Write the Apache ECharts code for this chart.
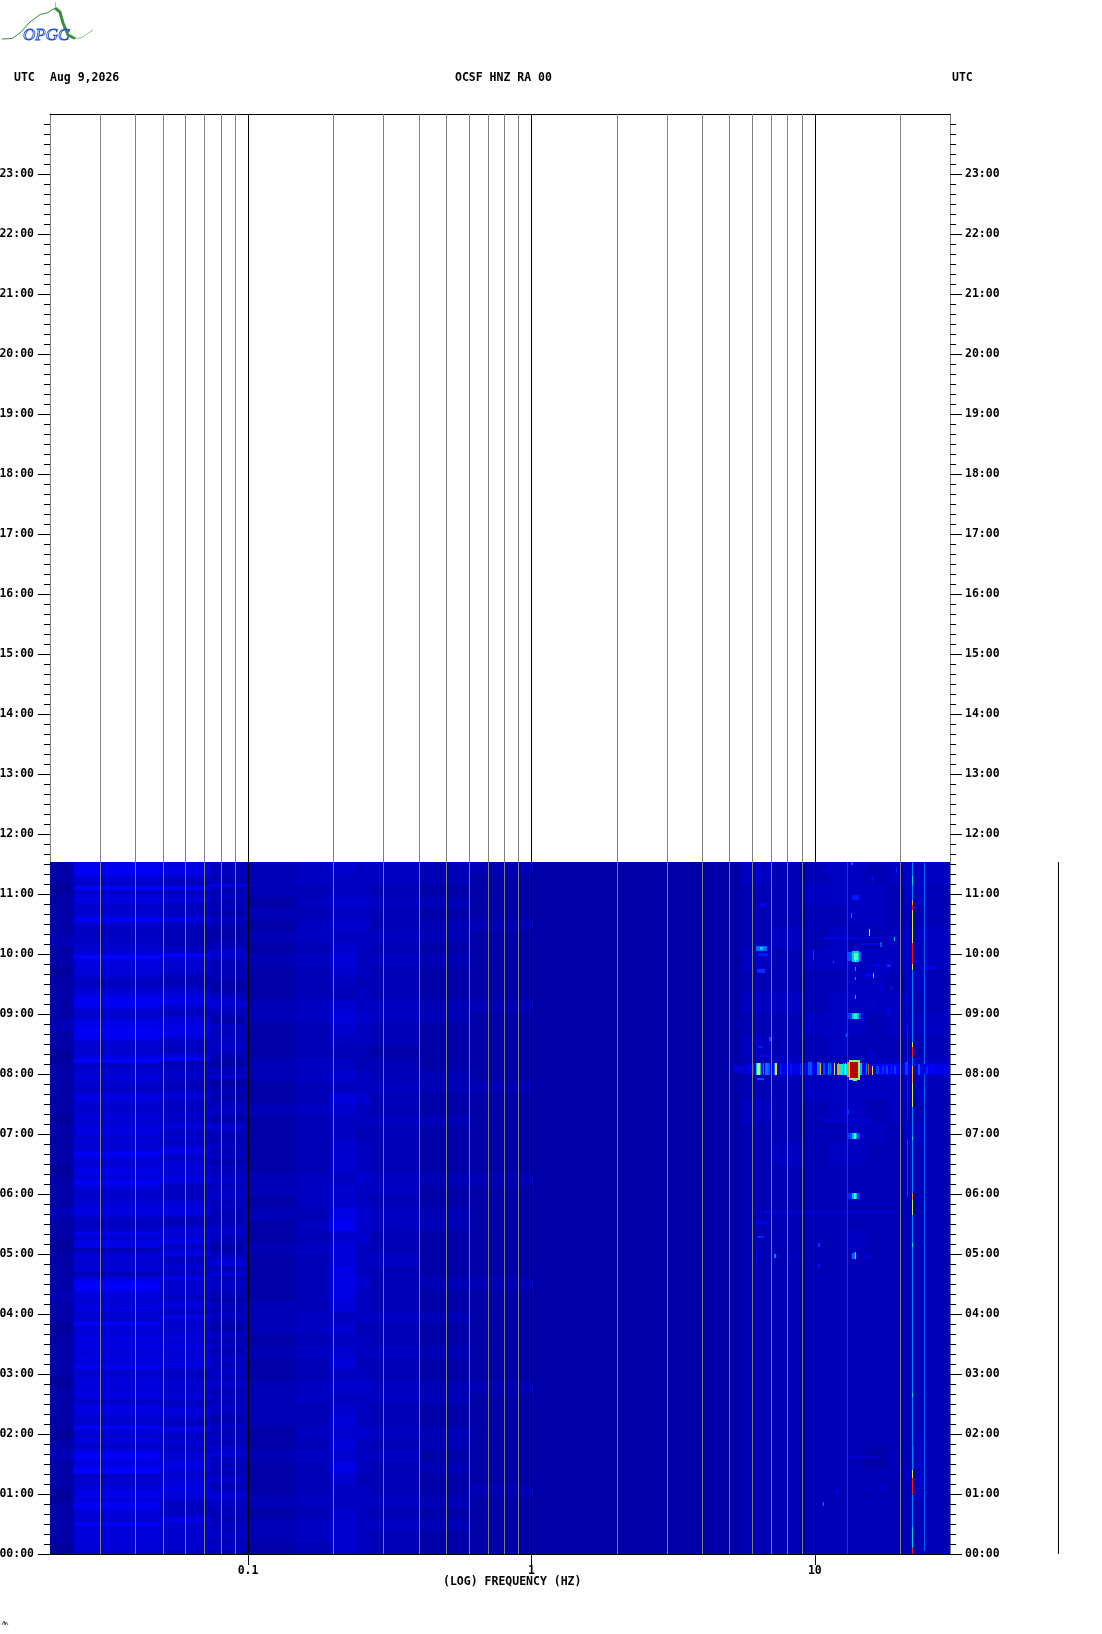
<!DOCTYPE html>
<html><head><meta charset="utf-8">
<style>html,body{margin:0;padding:0;background:#fff}#c{width:1102px;height:1634px}</style>
<script src="https://cdn.jsdelivr.net/npm/echarts@6/dist/echarts.min.js"></script>
</head><body><div id="c"></div>
<script>
// ---------- axes ----------
const freqMin = 0.02, freqMax = 30;
const hourTicks = [0,1,2,3,4,5,6,7,8,9,10,11,12,13,14,15,16,17,18,19,20,21,22,23];
const decadeFreqs = [0.1, 1, 10];
const minorFreqs = [0.03,0.04,0.05,0.06,0.07,0.08,0.09,0.2,0.3,0.4,0.5,0.6,0.7,0.8,0.9,2,3,4,5,6,7,8,9,20];
const dataEndHour = 11.533;
const extentBar = [[71.9, 0, dataEndHour]];

// ---------- background spectrum: band edges (Hz), levels 0-9 per band, read top (11:32) to bottom (00:00) ----------
const bandEdges = [0.02,0.0244,0.0488,0.0732,0.0977,0.146,0.195,0.24,0.27,0.4,0.6,1,3,5.5,7,9,11,13,15,18,21,25,30];
const bandLevels = [
 "221222232212222322122222122221222322122223221222212222123222122221",
 "788755956755568544445569766654456788655778886555794556554576555656765"+"656875677687555567654457577356556368986657655866"+"6767667685566667557765586566478868945567768866586666665",
 "677644845644457433333448655543345677544667775444683445443465444545654"+"545764566576444456764346567457445547555545654755"+"556566566754455556446654475455465677556676654445755555554",
 "334433733433332433222233555333333222345644322443444543221436222332334432454333433432"+"4344534454343333345433223456346344433243343322443342"+"34434443543343444323443433546343434533465443433434443443",
 "333232323222332223322322222332322322223332322333322322232332",
 "443434434333443334433433333444343433333443433443343433343443",
 "544545456543565434546544555455785667776454564545656575445555",
 "444545444434454433445443444544555444544434434544454443444444",
 "443433434333443323343343333443443343333433433443343433343433",
 "332323323222332222332232222322332222322322322332233232232322",
 "322223222222322222232222222322222222322222222322222222322222",
 "2",
 "2",
 "43334343433433333333333333333333",
 "33343343343334333333333333333333",
 "34334334334333333333333333333333",
 "44344344434434333333333333333333",
 "44434444344444333433333333333333",
 "34434443344343333333333333323333",
 "43344344344433333333333333333333",
 "44344434344343333333333333333333",
 "43344334343333333333333333333333"
];
const levelScale = 2.8;

// ---------- narrow features: [fLow, fHigh, hourTop, hourBottom, value] ----------
const faintSpots = [
 [6.3,6.85,10.02,9.97,27],[6.25,6.69,9.75,9.68,29],[6.35,6.75,10.85,10.78,25],[6.3,6.5,11.35,11.32,24],
 [6.2,6.8,10.13,10.05,34],[6.4,6.55,10.11,10.07,44],
 [10.5,14.5,10.28,10.25,19],[14.8,17.5,10.29,10.26,20],[14.4,17,10.18,10.15,20],[17,17.3,10.2,10.12,32],
 [9.85,9.95,10.07,9.9,30],[11.6,11.7,9.89,9.85,33],[18.0,18.6,9.84,9.78,28],[16.2,17,9.84,9.78,22],
 [23.5,27,9.79,9.75,21],[15,15.6,9.68,9.64,24],[18.6,18.75,9.47,9.42,28],[12.9,13.1,8.68,8.62,34],
 [6.9,7,8.62,8.55,32],[6.3,6.55,8.47,8.43,27],[6.35,7,8.32,8.28,22],[6.25,6.6,7.94,7.9,31],
 [12.9,13,7.4,7.32,26],[13.05,13.2,7.4,7.33,30],[10.5,16,7.25,7.21,17],[6.25,19.3,5.72,5.68,17],
 [6.2,6.8,5.55,5.5,22],[6.25,6.6,5.3,5.26,28],[7.2,7.3,5.0,4.94,36],[6.2,6.3,4.98,4.94,25],
 [8,8.1,4.98,4.94,25],[10.2,10.3,4.98,4.94,25],[10.3,10.4,5.18,5.12,30],[10.3,10.4,4.83,4.78,26],
 [11.2,11.3,4.99,4.93,22],[15.2,15.8,4.98,4.94,19],[10.7,10.8,0.86,0.8,36],[11.9,12.1,1.08,1.02,24],
 [15.2,15.4,1.12,1.06,20],[17,17.2,1.13,1.07,20],[13,17,1.63,1.6,15],[19.3,19.5,11.45,11.35,28],
 [15.9,16,11.3,11.2,26],[18,18.3,9.1,8.98,22],[14.5,15,8.95,8.92,24],[15.5,16.5,8.35,8.32,20],
 [20.9,21.1,9.28,9.2,22],[17,17.2,9.48,9.42,22],[16,16.2,9.2,9.1,22],[10.5,11.2,11.42,11.38,18]
];
const thinLines = [
 // 13 Hz line
 [12.96,13.08,dataEndHour,0,30],
 // 21.2 Hz faint line
 [21.15,21.3,11.4,5.95,22],[21.15,21.3,8.8,7.2,27],[21.15,21.3,6.9,5.95,31],
 // 24.4 Hz line and faint neighbours
 [24.25,24.55,dataEndHour,0.05,33],[20.9,21.0,1.4,1.25,20],[23.5,23.6,2,0.9,18]
];
const trainSpots = [
 [13.0,14.5,10.04,9.88,32],[13.5,14.3,10.05,9.87,44],[13.7,14.15,10.02,9.9,56],[13.9,14,9.97,9.86,66],
 [13.85,13.95,9.78,9.72,40],[13.85,13.95,9.62,9.56,38],[13.85,13.95,9.32,9.25,42],
 [13.1,14.5,9.01,8.91,30],[13.5,14.3,9.01,8.91,44],[13.7,14.1,9.0,8.92,54],
 [13.5,14.3,10.98,10.9,27],[13.45,13.55,10.68,10.6,36],[13.4,13.6,11.53,11.48,33],
 [15.5,15.6,10.42,10.3,64],[19.1,19.25,10.28,10.22,42],[16,16.1,9.68,9.6,50],[15.2,15.8,9.66,9.62,24],
 [13.1,14.4,7.01,6.91,30],[13.55,14.1,7.01,6.91,42],[13.8,14,7.01,6.91,54],
 [13.1,14.4,6.01,5.91,28],[13.5,14.1,6.01,5.91,42],[13.75,13.95,6.01,5.91,54],
 [13.55,14,5.01,4.91,34],[13.9,14.0,5.03,4.91,52]
];
const eventColumns = [
 [5.2,30,8.15,8.02,16],[5.8,30,8.17,8.0,20],[8.9,13,8.18,7.98,24],[14,20,8.17,7.98,25],[6,6.1,8.18,7.98,28],[6.2,6.47,8.18,7.98,42],[6.25,6.4,8.18,7.98,68],
 [6.55,6.6,8.18,7.98,36],[6.69,6.82,8.18,7.98,35],[6.85,6.93,8.18,7.98,32],[7.2,7.25,8.18,7.98,34],[7.25,7.38,8.18,7.98,72],
 [7.55,7.6,8.18,7.98,27],[8.19,8.33,8.18,7.98,26],[8.89,8.95,8.18,7.98,28],[9.5,9.8,8.2,7.98,32],[10.15,10.4,8.2,7.98,36],
 [10.46,10.55,8.18,7.98,78],[10.7,10.9,8.18,7.98,31],[11.15,11.2,8.18,7.98,36],[11.3,11.45,8.18,7.98,34],[11.7,11.82,8.18,7.98,66],
 [12.0,13.1,8.17,7.98,48],[12.1,12.2,8.18,7.98,78],[12.58,12.68,8.18,7.98,84],[12.74,12.82,8.18,7.98,62],[12.95,13.25,8.2,7.95,80],
 [13.2,14.4,8.24,7.9,60],[13.35,14.25,8.2,7.94,95],[13.6,14.1,7.94,7.88,60],[14.4,14.65,8.18,7.98,42],[15.2,15.3,8.18,7.98,36],
 [15.45,15.55,8.16,7.98,85],[15.9,16,8.14,7.98,75],[16.5,16.8,8.14,8,30],[17.3,17.5,8.14,8,29],[17.8,18.1,8.14,8,31],
 [18.5,18.7,8.14,8,29],[19.1,19.4,8.14,8,30],[20.8,21.3,8.2,7.98,30],[22,22.3,8.2,7.98,46],[23.2,23.5,8.16,7.98,32],
 [24.6,25,8.14,8,28],[25.6,26.3,8.14,8,25],[27.6,28,8.14,8,23]
];
const line22Hz = [
 [22.03,22.2,dataEndHour,0,36],[22.03,22.2,11.3,11.15,46],[22.03,22.2,10.9,10.82,78],[22.03,22.2,10.82,10.73,88],[22.03,22.2,10.73,10.18,70],
 [22.03,22.2,10.18,9.84,87],[22.03,22.2,9.84,9.73,70],[22.03,22.2,8.54,8.45,70],[22.03,22.2,8.45,8.29,87],[22.03,22.2,8.13,7.85,78],[22.03,22.2,7.85,7.45,68],
 [22.03,22.2,6.95,6.9,48],[22.03,22.2,6.01,5.9,80],[22.03,22.2,5.9,5.65,68],[22.03,22.2,5.18,5.12,48],[22.03,22.2,2.68,2.62,46],
 [22.03,22.2,1.4,1.26,70],[22.03,22.2,1.26,1.0,87],[22.03,22.2,0.45,0.1,44],[22.03,22.2,0.1,0,87],[22.2,22.35,1.8,1.4,30]
];
const colorStops = ['#000090','#0000c8','#0000ff','#0090ff','#00ffe0','#a0ff60','#ffe000','#ff1000','#800000'];

// ---------- build ----------
const bgCells = [];
bandLevels.forEach((s, b) => {
  const dh = dataEndHour / s.length;
  for (let i = 0; i < s.length; i++) {
    bgCells.push([bandEdges[b], bandEdges[b+1], dataEndHour - i*dh, dataEndHour - (i+1)*dh, (+s[i]) * levelScale]);
  }
});
const featureCells = [].concat(faintSpots, thinLines, trainSpots, eventColumns, line22Hz);
function cell(params, api) {
  const a = api.coord([api.value(0), api.value(2)]);
  const b = api.coord([api.value(1), api.value(3)]);
  const x0 = Math.round(a[0]), x1 = Math.max(Math.round(b[0]), x0 + 1);
  const y0 = Math.round(a[1]), y1 = Math.max(Math.round(b[1]), y0 + 1);
  return {type:'rect', shape:{x:x0, y:y0, width:x1-x0, height:y1-y0}, style:{fill:api.visual('color')}};
}
function vline(color) {
  return function (params, api) {
    const p = api.coord([api.value(0), 24]), q = api.coord([api.value(0), 0]);
    const x = Math.round(p[0]) + 0.5;
    return {type:'line', shape:{x1:x, y1:p[1], x2:x, y2:q[1]}, style:{stroke:color, lineWidth:1}};
  };
}
const F = '"DejaVu Sans Mono","Liberation Mono",monospace';
const txt = (x, y, t, align) => ({type:'text', x, y, style:{text:t, font:'bold 11.5px '+F, fill:'#000', textAlign:align||'left', textVerticalAlign:'middle'}, silent:true});
const pad = v => String(v).padStart(2,'0') + ':00';

const chart = echarts.init(document.getElementById('c'), null, {renderer:'canvas', width:1102, height:1634});
chart.setOption({
  animation:false, backgroundColor:'#fff',
  grid:{left:50, right:152, top:114, bottom:80, show:false, outerBoundsMode:'none', containLabel:false},
  xAxis:[
    {type:'log', logBase:10, min:freqMin, max:freqMax, position:'bottom',
     axisLine:{show:true, onZero:false, lineStyle:{color:'#000', width:1}},
     axisTick:{show:true, length:11, inside:false, customValues:decadeFreqs, lineStyle:{color:'#000', width:1}},
     minorTick:{show:false}, splitLine:{show:false}, minorSplitLine:{show:false},
     axisLabel:{show:true, margin:11, customValues:decadeFreqs, showMinLabel:true, showMaxLabel:true, hideOverlap:false,
       formatter:v=>String(v), color:'#000', fontFamily:F, fontWeight:'bold', fontSize:11.5}},
    {type:'log', logBase:10, min:freqMin, max:freqMax, position:'top',
     axisLine:{show:true, onZero:false, lineStyle:{color:'#000', width:1}}, axisTick:{show:false}, axisLabel:{show:false}, splitLine:{show:false}}
  ],
  yAxis:[0,1].map(i=>({type:'value', min:0, max:24, interval:1, position:i?'right':'left',
     axisLine:{show:true, onZero:false, lineStyle:{color:'#808080', width:1}},
     axisTick:{show:true, length:12, customValues:hourTicks, lineStyle:{color:'#000', width:1}},
     minorTick:{show:true, splitNumber:6, length:6, lineStyle:{color:'#000', width:1}},
     splitLine:{show:false}, minorSplitLine:{show:false},
     axisLabel:{show:true, margin:i?15:16, customValues:hourTicks, formatter:v=>pad(v), padding:[2,0,0,0], color:'#000', fontFamily:F, fontWeight:'bold', fontSize:11.5}})),
  visualMap:{show:false, type:'continuous', dimension:4, min:0, max:100, seriesIndex:[0,1], inRange:{color:colorStops}},
  series:[
    {type:'custom', coordinateSystem:'cartesian2d', renderItem:cell, data:bgCells, clip:true, silent:true, progressive:0, encode:{x:[0,1], y:[2,3]}, z:1},
    {type:'custom', coordinateSystem:'cartesian2d', renderItem:cell, data:featureCells, clip:true, silent:true, progressive:0, encode:{x:[0,1], y:[2,3]}, z:2},
    {type:'custom', coordinateSystem:'cartesian2d', renderItem:vline('#808080'), data:minorFreqs.map(f=>[f]), silent:true, encode:{x:0}, z:3},
    {type:'custom', coordinateSystem:'cartesian2d', renderItem:vline('#000'), data:decadeFreqs.map(f=>[f]), silent:true, encode:{x:0}, z:4},
    {type:'custom', coordinateSystem:'cartesian2d', clip:false, silent:true, data:extentBar, encode:{x:0},
     renderItem:(p,api)=>{const a=api.coord([api.value(0),api.value(2)]),b=api.coord([api.value(0),api.value(1)]);const x=Math.round(a[0])+0.5;
       return {type:'line', shape:{x1:x,y1:a[1],x2:x,y2:b[1]}, style:{stroke:'#000',lineWidth:1}};}, z:5}
  ],
  graphic:[
    txt(14,78,'UTC'), txt(50,78,'Aug 9,2026'), txt(455,78,'OCSF HNZ RA 00'), txt(952,78,'UTC'),
    txt(443,1582,'(LOG) FREQUENCY (HZ)'),
    // logo
    {type:'polyline', shape:{points:[[2,39],[12,38.5],[20,33],[30,22],[40,14.5],[47,13],[55,8]]}, style:{stroke:'#2e8b3c', fill:null, lineWidth:1}, silent:true},
    {type:'polyline', shape:{points:[[55,8],[60,12],[63,23],[68,35],[75,38.5]]}, style:{stroke:'#3a8f42', fill:null, lineWidth:3}, silent:true},
    {type:'polyline', shape:{points:[[75,38.5],[82,37.5],[93,30]]}, style:{stroke:'#8cc08c', fill:null, lineWidth:1}, silent:true},
    {type:'line', shape:{x1:55.5,y1:2,x2:55.5,y2:8}, style:{stroke:'#9ac59a', lineWidth:1}, silent:true},
    {type:'text', x:23, y:36, style:{text:'OPGC', font:'italic 17px "Liberation Serif",serif', fill:'none', stroke:'#2050d0', lineWidth:0.9, textVerticalAlign:'middle'}, silent:true},
    // tiny mark bottom-left
    {type:'polyline', shape:{points:[[2,1625],[4,1621],[5,1625],[6,1622],[8,1625]]}, style:{stroke:'#333', fill:null, lineWidth:0.8}, silent:true}
  ]
});
</script></body></html>
